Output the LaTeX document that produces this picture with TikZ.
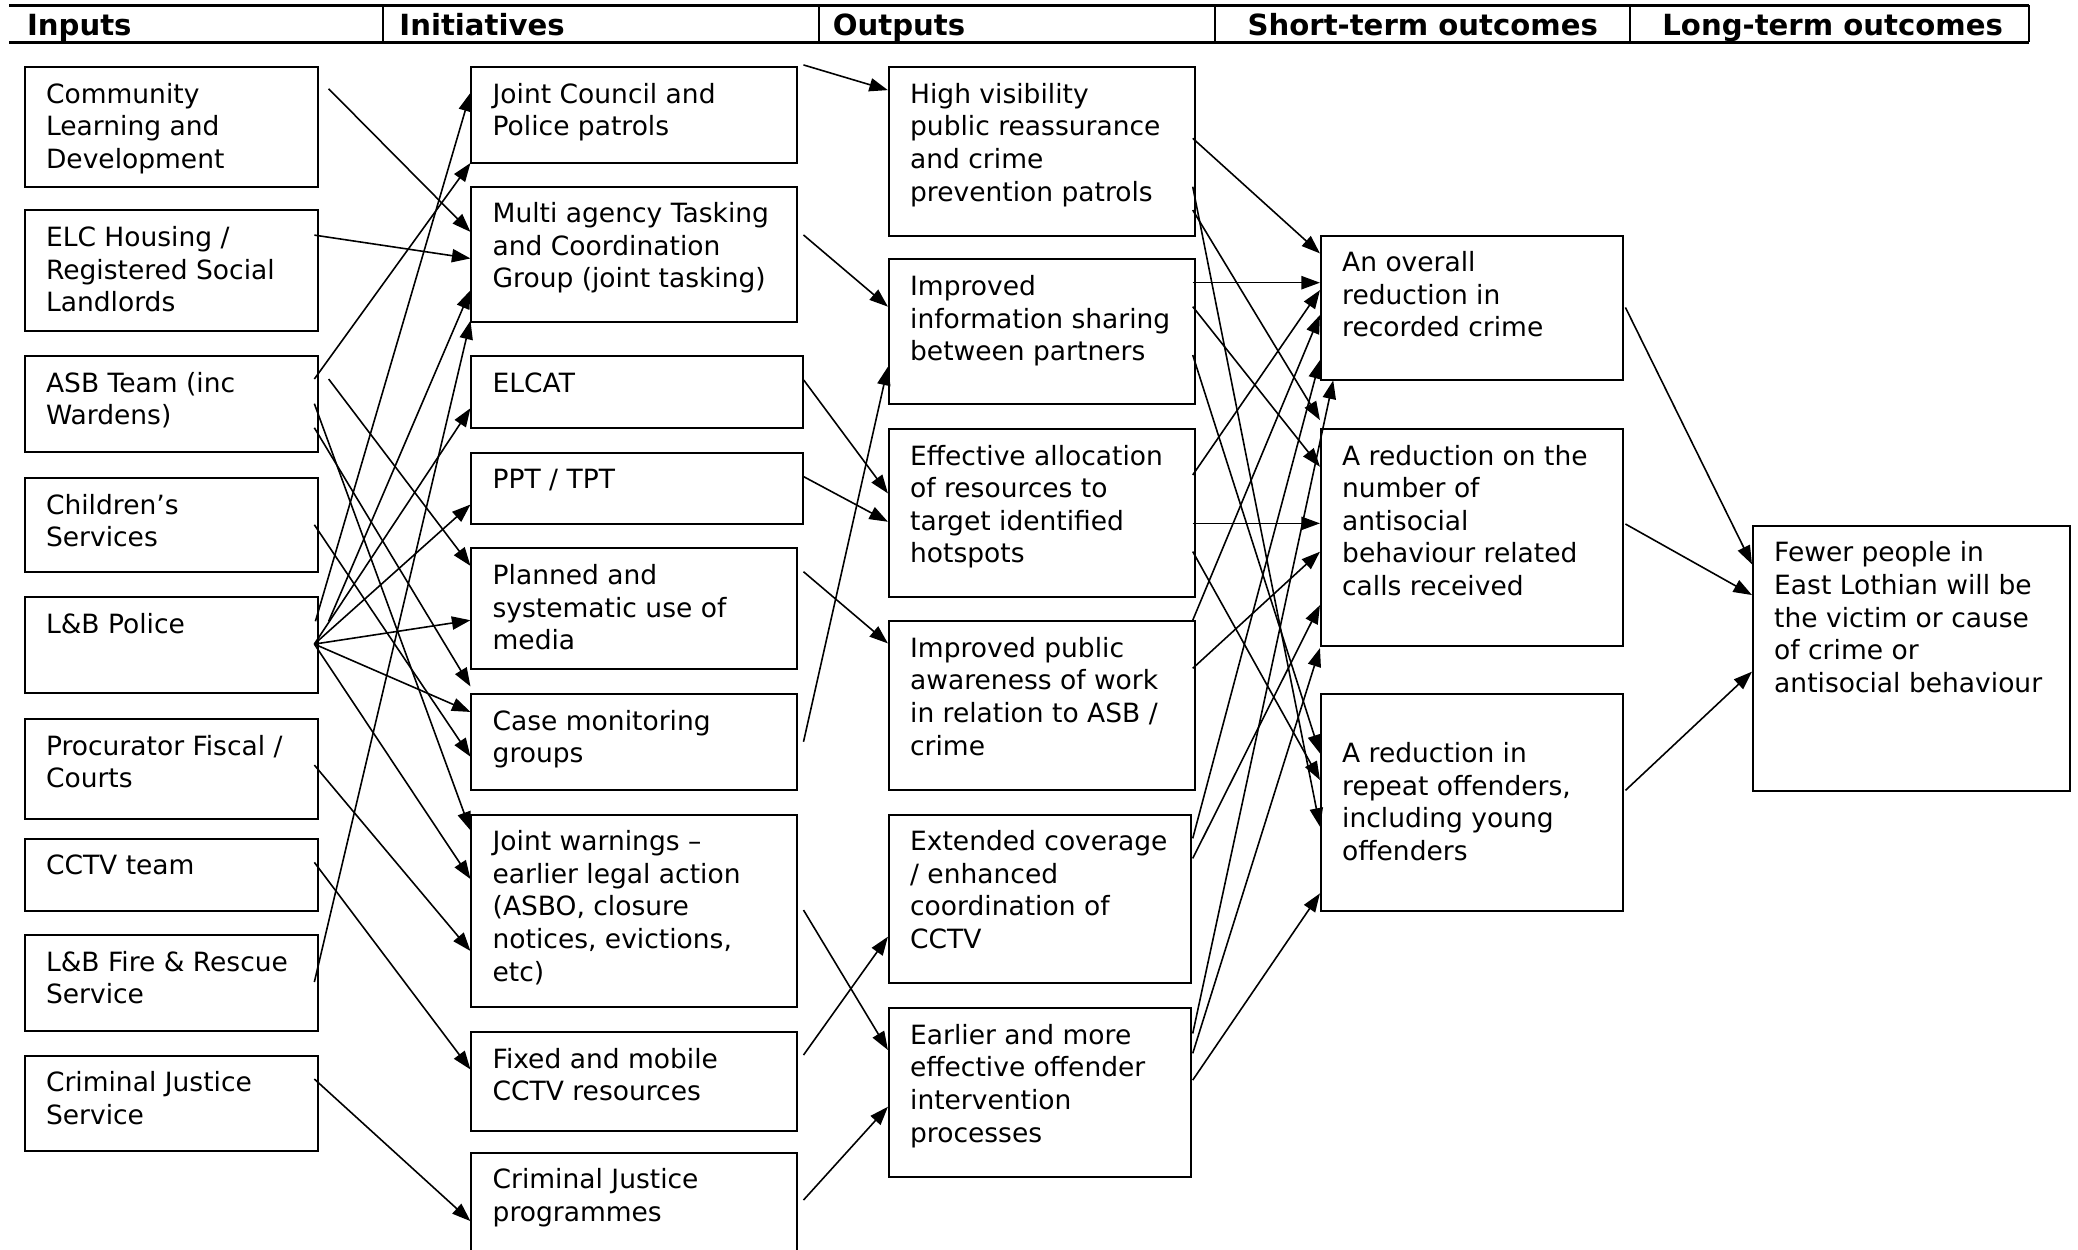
\documentclass[tikz,border=0pt]{standalone}
\usepackage{fontspec}
\setmainfont{DejaVu Sans}
\usepackage{tikz}
\usetikzlibrary{positioning}
\usetikzlibrary{arrows.meta}
\usetikzlibrary{calc}

% box text: width and height in picture units (1 unit = 0.5pt)
\newcommand{\boxtext}[3]{\parbox[c][\dimexpr#2pt/2-8pt\relax][t]{\dimexpr#1pt/2-16pt\relax}{\raggedright\vspace*{1pt}\strut #3}}

\tikzset{
    lbox/.style={draw, line width=0.75pt, anchor=north west, inner xsep=8pt, inner ysep=4pt,
        font=\fontsize{10}{12.3}\selectfont},
    arr/.style={-{Triangle[length=7pt,width=5pt]}, line width=0.6pt},
    hdrline/.style={line width=1pt},
    hdrtext/.style={anchor=base west, inner sep=0pt, font=\fontsize{11}{13}\selectfont\bfseries}
}

\begin{document}
\begin{tikzpicture}[x=0.5pt,y=-0.5pt]
        \useasboundingbox (0,0) rectangle (1568,943);

        % header row
        \draw[hdrline] (7,4) -- (1531,4);
        \draw[hdrline] (7,32) -- (1531,32);
        \foreach \xd in {289,618,917,1230}
            \draw[line width=0.6pt] (\xd,4) -- (\xd,32);
        \draw[hdrline] (1531,4) -- (1531,32);
        \node[hdrtext] (hin) at (20,27) {Inputs};
        \node[hdrtext] (hini) at (301,27) {Initiatives};
        \node[hdrtext] (hout) at (628,27) {Outputs};
        \node[hdrtext] (hst) at (941,27) {Short-term outcomes};
        \node[hdrtext] (hlt) at (1254,27) {Long-term outcomes};

        % inputs
        \node[lbox] (cld) at (18,50) {\boxtext{221}{90}{Community\\Learning and\\Development}};
        \node[lbox] (elc) at (18,158) {\boxtext{221}{91}{ELC Housing /\\Registered Social\\Landlords}};
        \node[lbox] (asb) at (18,268) {\boxtext{221}{72}{ASB Team (inc\\Wardens)}};
        \node[lbox] (chs) at (18,360) {\boxtext{221}{71}{Children’s\\Services}};
        \node[lbox] (lbp) at (18,450) {\boxtext{221}{72}{L\&B Police}};
        \node[lbox] (pfc) at (18,542) {\boxtext{221}{75}{Procurator Fiscal /\\Courts}};
        \node[lbox] (cctvt) at (18,632) {\boxtext{221}{55}{CCTV team}};
        \node[lbox] (lbf) at (18,705) {\boxtext{221}{72}{L\&B Fire \& Rescue\\Service}};
        \node[lbox] (cjs) at (18,796) {\boxtext{221}{72}{Criminal Justice\\Service}};

        % initiatives
        \node[lbox] (jcp) at (355,50) {\boxtext{246}{72}{Joint Council and\\Police patrols}};
        \node[lbox] (mat) at (355,140) {\boxtext{246}{102}{Multi agency Tasking\\and Coordination\\Group (joint tasking)}};
        \node[lbox] (elcat) at (355,268) {\boxtext{250}{54}{ELCAT}};
        \node[lbox] (ppt) at (355,341) {\boxtext{250}{54}{PPT / TPT}};
        \node[lbox] (pum) at (355,413) {\boxtext{246}{91}{Planned and\\systematic use of\\media}};
        \node[lbox] (cmg) at (355,523) {\boxtext{246}{72}{Case monitoring\\groups}};
        \node[lbox] (jw) at (355,614) {\boxtext{246}{145}{Joint warnings –\\earlier legal action\\(ASBO, closure\\notices, evictions,\\etc)}};
        \node[lbox] (fmc) at (355,778) {\boxtext{246}{75}{Fixed and mobile\\CCTV resources}};
        \node[lbox] (cjp) at (355,869) {\boxtext{246}{100}{Criminal Justice\\programmes}};

        % outputs
        \node[lbox] (hv) at (670,50) {\boxtext{231}{127}{High visibility\\public reassurance\\and crime\\prevention patrols}};
        \node[lbox] (iis) at (670,195) {\boxtext{231}{109}{Improved\\information sharing\\between partners}};
        \node[lbox] (ear) at (670,323) {\boxtext{231}{127}{Effective allocation\\of resources to\\target identified\\hotspots}};
        \node[lbox] (ipa) at (670,468) {\boxtext{231}{127}{Improved public\\awareness of work\\in relation to ASB /\\crime}};
        \node[lbox] (ecc) at (670,614) {\boxtext{228}{127}{Extended coverage\\/ enhanced\\coordination of\\CCTV}};
        \node[lbox] (eoi) at (670,760) {\boxtext{228}{127}{Earlier and more\\effective offender\\intervention\\processes}};

        % short-term outcomes
        \node[lbox] (orc) at (996,177) {\boxtext{228}{109}{An overall\\reduction in\\recorded crime}};
        \node[lbox] (rab) at (996,323) {\boxtext{228}{164}{A reduction on the\\number of\\antisocial\\behaviour related\\calls received}};
        \node[lbox] (rro) at (996,523) {\boxtext{228}{164}{\mbox{}\\A reduction in\\repeat offenders,\\including young\\offenders}};

        % long-term outcome
        \node[lbox] (lto) at (1322,396) {\boxtext{239}{200}{Fewer people in\\East Lothian will be\\the victim or cause\\of crime or\\antisocial behaviour}};

        % inputs -> initiatives
        \foreach \s/\sx/\sy/\t/\tx/\ty in {
            cld/7.5/17/mat/0/35, elc/-3.3/19.4/mat/0/55,
            asb/-3.3/18/jcp/0/73, asb/7.5/18/pum/0/14,
            asb/-3.3/36.6/jw/0/12.6, asb/-3.3/54.8/cmg/0/-5,
            chs/-3.3/36/cmg/0/48,
            lbp/-2.5/18.8/jcp/0/20, lbp/7.5/18.8/mat/0/79,
            lbp/-3.3/36/elcat/0/40, lbp/-3.3/36/ppt/0/39.7,
            lbp/-3.3/36/pum/0/55, lbp/-3.3/36/cmg/0/14.2,
            lbp/-3.3/36/jw/0/49.3,
            pfc/-3.3/35.3/jw/0/103.6, cctvt/-3.3/18.7/fmc/0/29,
            lbf/-3.3/36/mat/0/102, cjs/-3.3/18.2/cjp/0/52.4}
            \draw[arr] ($(\s.north east)+(\sx,\sy)$) -- ($(\t.north west)+(\tx,\ty)$);

        % initiatives -> outputs
        \foreach \s/\sx/\sy/\t/\tx/\ty in {
            jcp/3.8/-1/hv/0/18, mat/3.8/37.3/iis/0/36.4,
            elcat/0/18.8/ear/0/49.3, ppt/0/18.7/ear/0/70.7,
            pum/3.8/18.4/ipa/0/17.5, cmg/3.8/36.7/iis/0/81.7,
            jw/3.8/72.7/eoi/0/32.3, fmc/3.8/18.1/ecc/0/92.8,
            cjp/3.8/36.5/eoi/0/75.1}
            \draw[arr] ($(\s.north east)+(\sx,\sy)$) -- ($(\t.north west)+(\tx,\ty)$);

        % outputs -> short-term outcomes
        \foreach \s/\sx/\sy/\t/\tx/\ty in {
            hv/-2.5/54.4/orc/0/14.2, hv/-2.5/90.9/rro/0/100.8,
            hv/-2.5/108.5/rab/0/-6,
            iis/-2.5/18.3/orc/0/36.3, iis/-2.5/36.4/rab/0/29.2,
            iis/-2.5/72.9/rro/0/45.5,
            ear/-2.5/35.4/orc/0/41.9, ear/-2.5/71.9/rab/0/71.9,
            ear/-2.5/93.2/rro/0/65.6,
            ipa/-2.5/0/orc/0/60.7, ipa/-2.5/36.3/rab/0/93.3,
            ecc/0.5/18.6/orc/0/94.7, ecc/0.5/33.7/rab/0/133.6,
            eoi/0.5/19.8/orc/10/110, eoi/0.5/34.8/rab/0/166,
            eoi/0.5/55/rro/0/151.1}
            \draw[arr] ($(\s.north east)+(\sx,\sy)$) -- ($(\t.north west)+(\tx,\ty)$);

        % short-term -> long-term
        \foreach \s/\sy/\ty in {orc/55/29.8, rab/72.4/53, rro/73.4/110.8}
            \draw[arr] ($(\s.north east)+(1,\sy)$) -- ($(lto.north west)+(0,\ty)$);
\end{tikzpicture}
\end{document}
